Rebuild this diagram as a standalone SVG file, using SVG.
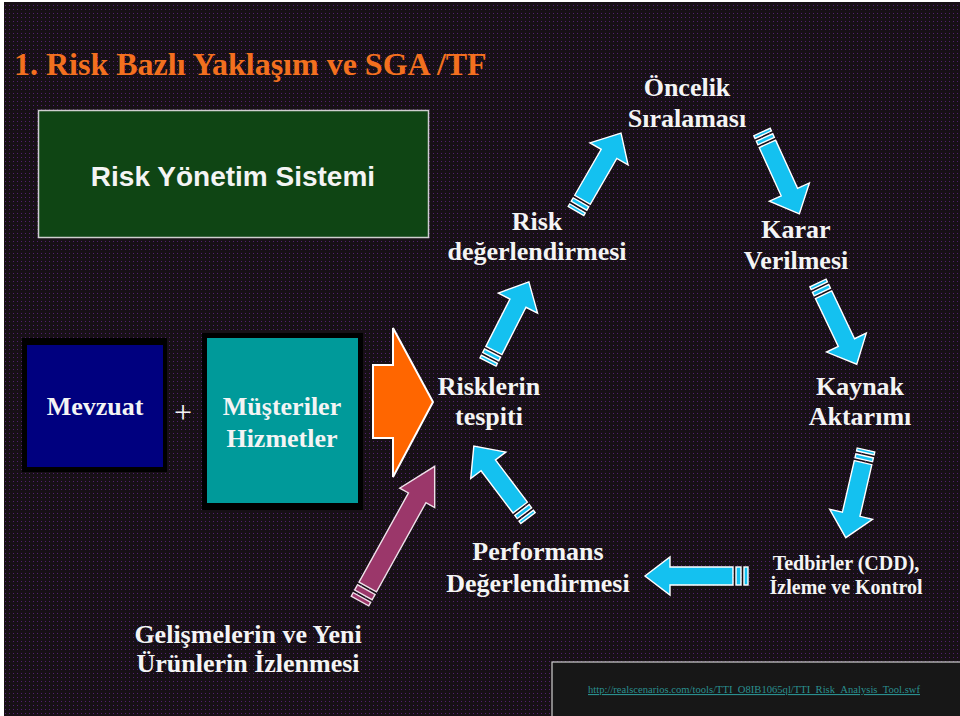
<svg xmlns="http://www.w3.org/2000/svg" xmlns:xlink="http://www.w3.org/1999/xlink" width="960" height="716" viewBox="0 0 960 716">
<defs>
<style>
.lbl{font-family:"Liberation Serif","Times New Roman",serif;font-weight:bold;fill:#f4f4f4;text-anchor:middle;font-size:26px}
.sm{font-size:20px}
.title{font-family:"Liberation Serif","Times New Roman",serif;font-weight:bold;font-size:32px;fill:#f3701f}
.sans{font-family:"Liberation Sans",Arial,sans-serif;font-weight:bold;font-size:28px;fill:#f4f4f4;text-anchor:middle}
.plus{font-family:"Liberation Serif","Times New Roman",serif;font-size:32px;fill:#f4f4f4;text-anchor:middle}
.url{font-family:"Liberation Serif","Times New Roman",serif;font-size:11px;fill:#2a8f8f;text-decoration:underline}
.arr{fill:#14c1f0;stroke:#ffffff;stroke-width:1.4;stroke-linejoin:miter}
.mag{fill:#9b376a;stroke:#f0e0ea;stroke-width:1.4}
</style>
<pattern id="dots" width="4" height="4" patternUnits="userSpaceOnUse">
<rect width="4" height="4" fill="#171016"/>
<rect x="1" y="1" width="1" height="1" fill="#52216e"/>
</pattern>
<g id="blue">
<rect class="arr" x="0" y="-9" width="3" height="18"/>
<rect class="arr" x="6" y="-9" width="4" height="18"/>
<path class="arr" d="M13,-9 H66 V-22 L90,0 L66,22 V9 H13 Z"/>
</g>
</defs>
<rect width="960" height="716" fill="#ffffff"/>
<rect x="4" y="2" width="956" height="714" fill="url(#dots)"/>

<text class="title" x="14" y="75">1. Risk Bazlı Yaklaşım ve SGA /TF</text>

<g id="risk-yonetim">
<rect x="38.5" y="110.5" width="390" height="127" fill="#0f4514" stroke="#cfcfcf" stroke-width="1.5"/>
<text class="sans" x="233" y="186">Risk Yönetim Sistemi</text>
</g>

<g id="mevzuat">
<rect x="22" y="338" width="145" height="134" fill="#000000"/>
<rect x="27" y="345" width="136" height="122" fill="#00007f"/>
<text class="lbl" x="95" y="415">Mevzuat</text>
</g>

<text class="plus" x="183" y="423">+</text>

<g id="musteriler">
<rect x="202" y="333" width="161" height="177" fill="#000000"/>
<rect x="207" y="338" width="151" height="165" fill="#009a9a"/>
<text class="lbl" x="282" y="415">Müşteriler</text>
<text class="lbl" x="282" y="447">Hizmetler</text>
</g>

<g id="oncelik"><text class="lbl" x="687" y="96">Öncelik</text><text class="lbl" x="687" y="127">Sıralaması</text></g>
<g id="risk-degerlendirmesi"><text class="lbl" x="537" y="230">Risk</text><text class="lbl" x="537" y="260">değerlendirmesi</text></g>
<g id="karar"><text class="lbl" x="796" y="238">Karar</text><text class="lbl" x="796" y="269">Verilmesi</text></g>
<g id="risklerin"><text class="lbl" x="489" y="395">Risklerin</text><text class="lbl" x="489" y="425">tespiti</text></g>
<g id="kaynak"><text class="lbl" x="860" y="395">Kaynak</text><text class="lbl" x="860" y="425">Aktarımı</text></g>
<g id="performans"><text class="lbl" x="538" y="560">Performans</text><text class="lbl" x="538" y="592">Değerlendirmesi</text></g>
<g id="tedbirler"><text class="lbl sm" x="846" y="570">Tedbirler (CDD),</text><text class="lbl sm" x="846" y="594">İzleme ve Kontrol</text></g>
<g id="gelismeler"><text class="lbl" x="248" y="643">Gelişmelerin ve Yeni</text><text class="lbl" x="248" y="672">Ürünlerin İzlenmesi</text></g>

<g id="connectors">
<path d="M373,365 H393 V328 L433,402 L393,477 V438 H373 Z" fill="#ff6600" stroke="#ffffff" stroke-width="2"/>
<use xlink:href="#blue" href="#blue" transform="translate(576,211) rotate(-60)"/>
<use xlink:href="#blue" href="#blue" transform="translate(762,132) rotate(65.5)"/>
<use xlink:href="#blue" href="#blue" transform="translate(818,283) rotate(64.5)"/>
<use xlink:href="#blue" href="#blue" transform="translate(866,450) rotate(103)"/>
<use xlink:href="#blue" href="#blue" transform="translate(528,518) rotate(-127)"/>
<use xlink:href="#blue" href="#blue" transform="translate(488,362) rotate(-63)"/>
<g transform="translate(748,576) rotate(180)">
<rect class="arr" x="0" y="-9" width="4" height="18"/>
<rect class="arr" x="7" y="-9" width="5" height="18"/>
<path class="arr" d="M15,-9 H78 V-19 L103,0 L78,19 V9 H15 Z"/>
</g>
<g transform="translate(360,601) rotate(-61)">
<rect class="mag" x="0" y="-10" width="4" height="20"/>
<rect class="mag" x="7" y="-10" width="6" height="20"/>
<path class="mag" d="M16,-10 H118 V-20 L154,0 L118,20 V10 H16 Z"/>
</g>
</g>

<g id="url-box">
<rect x="552" y="662" width="410" height="60" fill="#171717" stroke="#d0d0d0" stroke-width="1.2"/>
<text class="url" x="588" y="693" textLength="332" lengthAdjust="spacingAndGlyphs">http://realscenarios.com/tools/TTI_O8IB1065ql/TTI_Risk_Analysis_Tool.swf</text>
</g>
</svg>
